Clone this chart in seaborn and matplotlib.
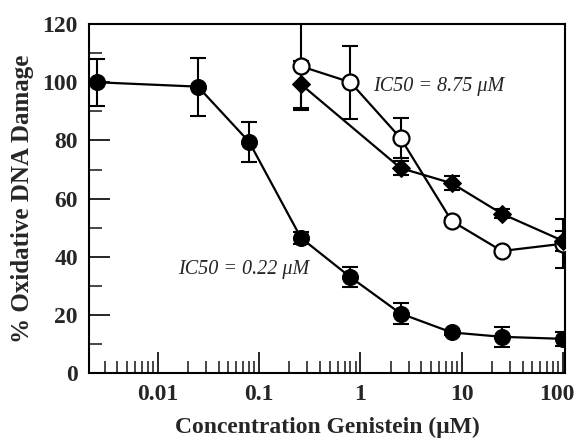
import numpy as np
import pandas as pd
import matplotlib
matplotlib.use("Agg")
import matplotlib.pyplot as plt
import matplotlib.transforms as mtransforms
import seaborn as sns
from matplotlib.ticker import LogLocator, FixedLocator, NullFormatter, FixedFormatter

# ---- data ----
conc_filled = [0.0025, 0.025, 0.08, 0.26, 0.8, 2.5, 8, 25, 100]
dmg_filled = [100.0, 98.5, 79.5, 46.5, 33.0, 20.5, 14.0, 12.5, 11.8]
err_filled = [8.0, 10.0, 7.0, 2.0, 3.5, 3.5, 1.0, 3.5, 2.5]

conc_open = [0.26, 0.8, 2.5, 8, 25, 100]
dmg_open = [105.5, 100.0, 80.8, 52.3, 42.0, 44.5]
err_open = [15.0, 12.5, 7.0, 1.0, 1.0, 8.5]

conc_diam = [0.26, 2.5, 8, 25, 100]
dmg_diam = [99.3, 70.5, 65.3, 54.8, 45.5]
err_diam = [8.0, 2.5, 2.5, 1.5, 3.5]

label_filled = "IC50 = 0.22 \u03bcM"
label_open = "IC50 = 8.75 \u03bcM"

x_ticks = [0.01, 0.1, 1, 10, 100]
x_ticklabels = ["0.01", "0.1", "1", "10", "100"]
y_ticks = [0, 20, 40, 60, 80, 100, 120]

sns.set_style("ticks")
plt.rcParams['font.family'] = ['Liberation Serif', 'DejaVu Serif']

fig = plt.figure(figsize=(5.78, 4.38), dpi=100)
ax = fig.add_axes([0.154, 0.148, 0.8235, 0.797])

df_f = pd.DataFrame({"conc": conc_filled, "dmg": dmg_filled})
df_o = pd.DataFrame({"conc": conc_open, "dmg": dmg_open})
df_d = pd.DataFrame({"conc": conc_diam, "dmg": dmg_diam})

for df, err in [(df_f, err_filled), (df_o, err_open), (df_d, err_diam)]:
    ax.errorbar(df["conc"], df["dmg"], yerr=err, fmt="none", ecolor="black",
                elinewidth=1.5, capsize=6, capthick=1.5, zorder=2)

sns.lineplot(data=df_f, x="conc", y="dmg", ax=ax, color="black", lw=1.6,
             marker="o", markersize=11.5, markerfacecolor="black",
             markeredgecolor="black", zorder=3)
sns.lineplot(data=df_o, x="conc", y="dmg", ax=ax, color="black", lw=1.6,
             marker="o", markersize=11.5, markerfacecolor="white",
             markeredgecolor="black", markeredgewidth=1.6, zorder=3)
sns.lineplot(data=df_d, x="conc", y="dmg", ax=ax, color="black", lw=1.6,
             marker="D", markersize=9, markerfacecolor="black",
             markeredgecolor="black", zorder=4)

ax.set_xscale("log")
ax.set_xlim(0.0021, 105)
ax.set_ylim(0, 120)

ax.xaxis.set_major_locator(FixedLocator(x_ticks))
ax.xaxis.set_major_formatter(FixedFormatter(x_ticklabels))
ax.xaxis.set_minor_locator(LogLocator(base=10, subs=np.arange(2, 10)))
ax.xaxis.set_minor_formatter(NullFormatter())
ax.yaxis.set_major_locator(FixedLocator(y_ticks))
ax.yaxis.set_minor_locator(FixedLocator([10, 30, 50, 70, 90, 110]))

ax.tick_params(axis="both", which="major", direction="in", length=15,
               width=1.4, labelsize=17, pad=8, top=False, right=False)
ax.tick_params(axis="both", which="minor", direction="in", length=9,
               width=1.2, top=False, right=False)
for lab in ax.get_xticklabels() + ax.get_yticklabels():
    lab.set_fontweight("bold")

# nudge the last x tick label so it stays inside the figure
last = ax.get_xticklabels()[-1]
last.set_transform(last.get_transform() +
                   mtransforms.ScaledTranslation(-6 / 100, 0, fig.dpi_scale_trans))

for s in ax.spines.values():
    s.set_visible(True)
    s.set_linewidth(1.5)
    s.set_color("black")

ax.set_xlabel("Concentration Genistein (\u03bcM)", fontsize=17, fontweight="bold", labelpad=8)
ax.set_ylabel("% Oxidative DNA Damage", fontsize=18, fontweight="bold", labelpad=6)

ax.text(0.0158, 35.7, label_filled, fontsize=14.5, style="italic", ha="left", va="center")
ax.text(1.35, 98.5, label_open, fontsize=14.5, style="italic", ha="left", va="center")

fig.savefig("out.png", dpi=100)
